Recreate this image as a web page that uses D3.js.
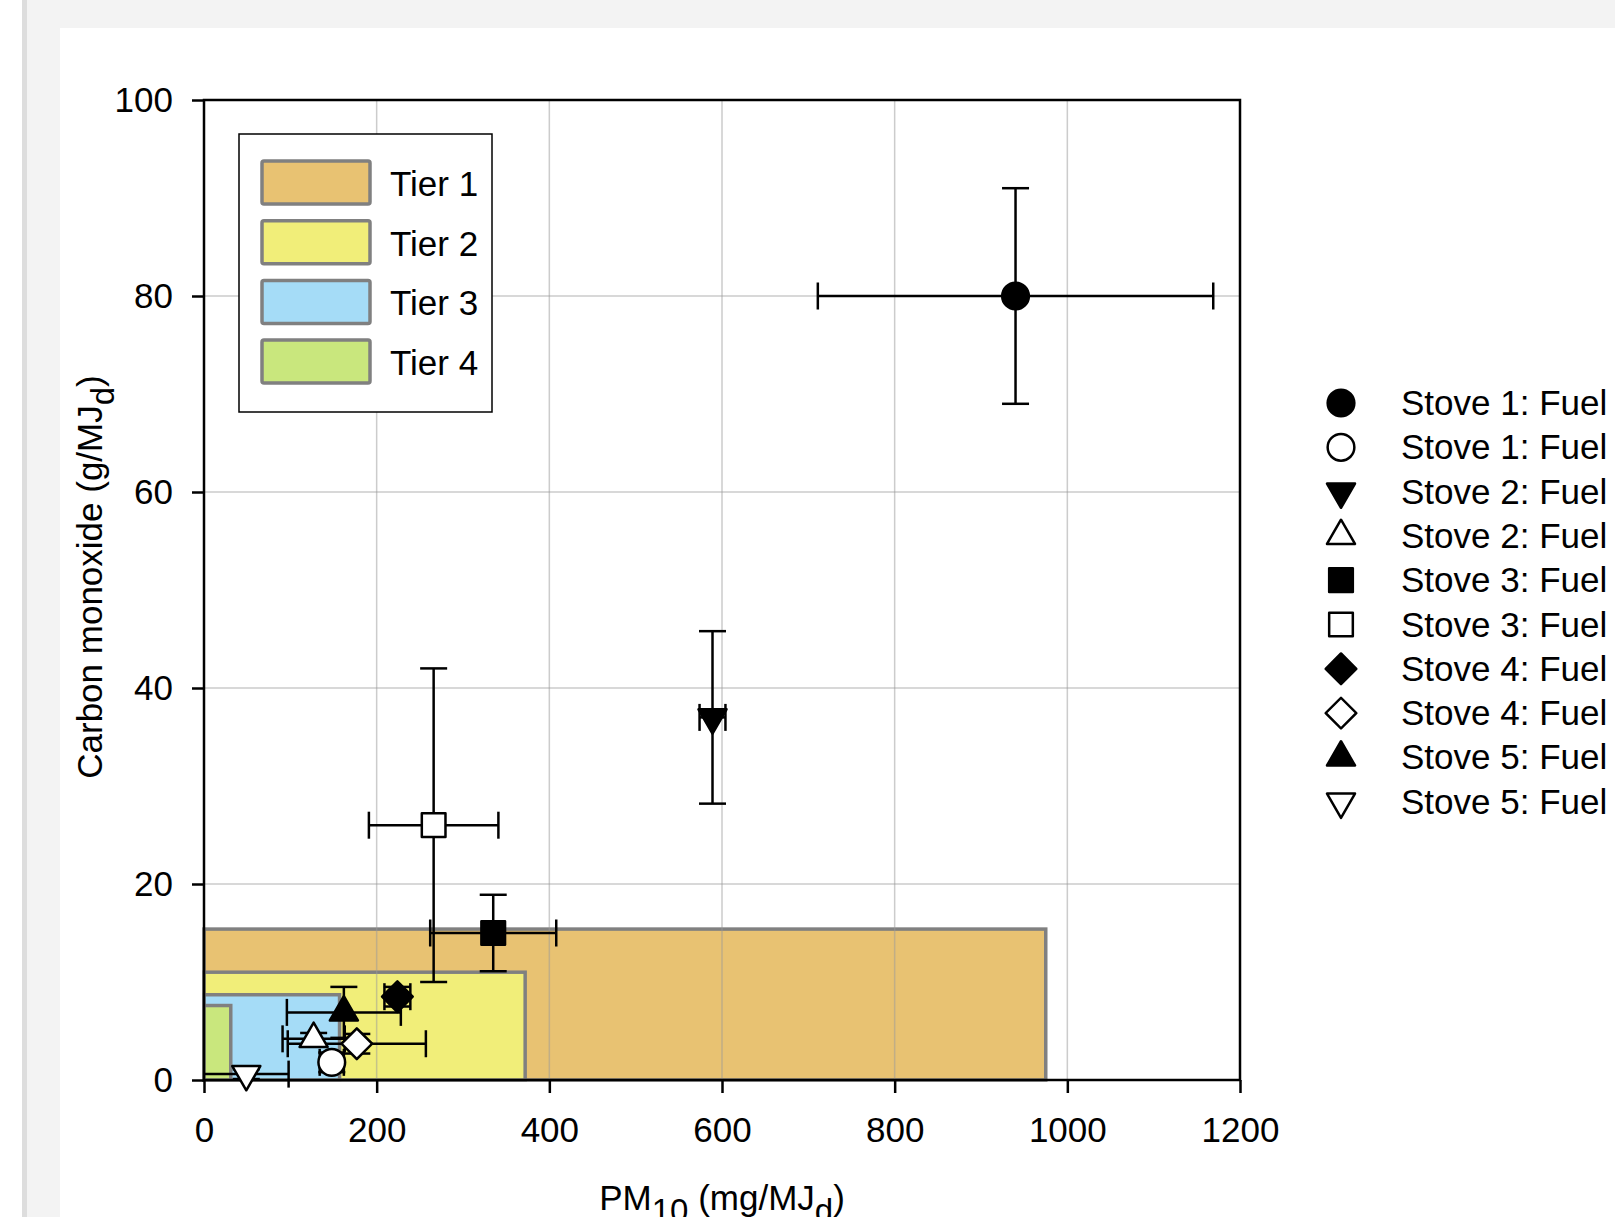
<!DOCTYPE html>
<html>
<head>
<meta charset="utf-8">
<script src="https://cdn.jsdelivr.net/npm/d3@7"></script>
<style>
  html, body { margin: 0; padding: 0; width: 1615px; height: 1217px; overflow: hidden; background: #fff; }
  #strip { position: absolute; left: 22px; top: 0; width: 5px; height: 1217px; background: #dddddd; }
  #frame { position: absolute; left: 27px; top: 0; width: 1588px; height: 1217px; background: #f3f3f3; }
  #panel { position: absolute; left: 60px; top: 28px; width: 1555px; height: 1189px; background: #fff; }
  svg { position: absolute; left: 0; top: 0; }
  text { font-family: "Liberation Sans", Arial, sans-serif; fill: #000; }
</style>
</head>
<body>
<div id="strip"></div>
<div id="frame"></div>
<div id="panel"></div>
<svg id="chart" width="1615" height="1217"></svg>
<script>
// tiers (upper limits of each box)
const tierNames = ['Tier 1', 'Tier 2', 'Tier 3', 'Tier 4'];
const tierPM = [975, 372, 157, 31];
const tierCO = [15.4, 11.0, 8.7, 7.6];
const tierColors = ['#e8c272', '#f1ee79', '#a5dcf7', '#c9e77d'];

// stove / fuel measurements
const stoveLabels = ['Stove 1: Fuel', 'Stove 1: Fuel', 'Stove 2: Fuel', 'Stove 2: Fuel', 'Stove 3: Fuel',
                     'Stove 3: Fuel', 'Stove 4: Fuel', 'Stove 4: Fuel', 'Stove 5: Fuel', 'Stove 5: Fuel'];
const stoveShapes = ['circle', 'circle', 'triangleDown', 'triangleUp', 'square',
                     'square', 'diamond', 'diamond', 'triangleUp', 'triangleDown'];
const stoveFilled = [true, false, true, false, true, false, true, false, true, false];
const pmMean = [940, 148, 589, 127, 335, 266, 224, 177, 162, 49];
const pmErr  = [229, 14, 15, 36, 73, 75, 15, 80, 66, 49];
const coMean = [80, 1.8, 37, 4.2, 15, 26, 8.5, 3.7, 6.9, 0.6];
const coErr  = [11, 1.0, 8.8, 0.6, 3.9, 16, 1.0, 1.0, 2.6, 0.5];

const xTicks = [0, 200, 400, 600, 800, 1000, 1200];
const yTicks = [0, 20, 40, 60, 80, 100];

const svg = d3.select('#chart');
const mLeft = 204, mRight = 1240, mTop = 100, mBottom = 1080;
const FONT = '35px';

let xScale = d3.scaleLinear().domain([0, 1200]).range([mLeft, mRight]);
let yScale = d3.scaleLinear().domain([0, 100]).range([mBottom, mTop]);

// tier boxes, biggest first
svg.selectAll('.tier')
  .data(tierNames)
  .enter()
  .append('rect')
  .attr('class', 'tier')
  .attr('x', xScale(0))
  .attr('y', (d, i) => yScale(tierCO[i]))
  .attr('width', (d, i) => xScale(tierPM[i]) - xScale(0))
  .attr('height', (d, i) => yScale(0) - yScale(tierCO[i]))
  .attr('fill', (d, i) => tierColors[i])
  .attr('stroke', '#808080')
  .attr('stroke-width', 3.5);

// gridlines
svg.selectAll('.vgrid')
  .data(xTicks.slice(1, -1))
  .enter()
  .append('line')
  .attr('x1', d => xScale(d)).attr('x2', d => xScale(d))
  .attr('y1', mTop).attr('y2', mBottom)
  .attr('stroke', '#9a9a9a').attr('stroke-opacity', 0.5).attr('stroke-width', 1.5);
svg.selectAll('.hgrid')
  .data(yTicks.slice(1, -1))
  .enter()
  .append('line')
  .attr('y1', d => yScale(d)).attr('y2', d => yScale(d))
  .attr('x1', mLeft).attr('x2', mRight)
  .attr('stroke', '#9a9a9a').attr('stroke-opacity', 0.5).attr('stroke-width', 1.5);

// axes
let xAxis = svg.append('g')
  .attr('transform', `translate(0,${mBottom})`)
  .call(d3.axisBottom(xScale).tickValues(xTicks).tickFormat(d3.format('d'))
    .tickSize(13).tickSizeOuter(0).tickPadding(24));
let yAxis = svg.append('g')
  .attr('transform', `translate(${mLeft},0)`)
  .call(d3.axisLeft(yScale).tickValues(yTicks).tickFormat(d3.format('d'))
    .tickSize(12).tickSizeOuter(0).tickPadding(19));
[xAxis, yAxis].forEach(g => {
  g.attr('font-family', null).attr('font-size', null);
  g.select('.domain').remove();
  g.selectAll('.tick line').attr('stroke', '#000').attr('stroke-width', 2.5);
  g.selectAll('.tick text').style('font-size', FONT);
});

// plot frame
svg.append('rect')
  .attr('x', mLeft).attr('y', mTop)
  .attr('width', mRight - mLeft).attr('height', mBottom - mTop)
  .attr('fill', 'none').attr('stroke', '#000').attr('stroke-width', 2.5);

// error bars
const CAP = 13.5;
let idx = d3.range(pmMean.length);
let bars = svg.selectAll('.err').data(idx).enter().append('g').attr('class', 'err')
  .attr('stroke', '#000').attr('stroke-width', 2.5);
bars.append('line')
  .attr('x1', i => xScale(Math.max(0, pmMean[i] - pmErr[i]))).attr('x2', i => xScale(pmMean[i] + pmErr[i]))
  .attr('y1', i => yScale(coMean[i])).attr('y2', i => yScale(coMean[i]));
bars.append('line')
  .attr('x1', i => xScale(pmMean[i] + pmErr[i])).attr('x2', i => xScale(pmMean[i] + pmErr[i]))
  .attr('y1', i => yScale(coMean[i]) - CAP).attr('y2', i => yScale(coMean[i]) + CAP);
bars.filter(i => pmMean[i] - pmErr[i] > 0).append('line')
  .attr('x1', i => xScale(pmMean[i] - pmErr[i])).attr('x2', i => xScale(pmMean[i] - pmErr[i]))
  .attr('y1', i => yScale(coMean[i]) - CAP).attr('y2', i => yScale(coMean[i]) + CAP);
bars.append('line')
  .attr('x1', i => xScale(pmMean[i])).attr('x2', i => xScale(pmMean[i]))
  .attr('y1', i => yScale(coMean[i] + coErr[i])).attr('y2', i => yScale(Math.max(0, coMean[i] - coErr[i])));
bars.append('line')
  .attr('x1', i => xScale(pmMean[i]) - CAP).attr('x2', i => xScale(pmMean[i]) + CAP)
  .attr('y1', i => yScale(coMean[i] + coErr[i])).attr('y2', i => yScale(coMean[i] + coErr[i]));
bars.append('line')
  .attr('x1', i => xScale(pmMean[i]) - CAP).attr('x2', i => xScale(pmMean[i]) + CAP)
  .attr('y1', i => yScale(coMean[i] - coErr[i])).attr('y2', i => yScale(coMean[i] - coErr[i]));

// marker shapes
const shapeType = { circle: d3.symbolCircle, square: d3.symbolSquare, diamond: d3.symbolSquare,
                    triangleUp: d3.symbolTriangle, triangleDown: d3.symbolTriangle };
const shapeSize = { circle: 560, square: 560, diamond: 470, triangleUp: 340, triangleDown: 340 };
const shapeRot = { circle: 0, square: 0, diamond: 45, triangleUp: 0, triangleDown: 180 };
const symbolPath = s => d3.symbol().type(shapeType[s]).size(shapeSize[s])();

svg.selectAll('.marker')
  .data(idx)
  .enter()
  .append('path')
  .attr('class', 'marker')
  .attr('d', i => symbolPath(stoveShapes[i]))
  .attr('transform', i => `translate(${xScale(pmMean[i])},${yScale(coMean[i])}) rotate(${shapeRot[stoveShapes[i]]})`)
  .attr('fill', i => stoveFilled[i] ? '#000' : '#fff')
  .attr('stroke', '#000')
  .attr('stroke-width', 2.5)
  .attr('stroke-linejoin', 'round');

// tier legend
const tl = svg.append('g').attr('transform', 'translate(239,134)');
tl.append('rect').attr('width', 253).attr('height', 278)
  .attr('fill', '#fff').attr('stroke', '#000').attr('stroke-width', 1.5);
let tierItem = tl.selectAll('.titem').data(tierNames).enter().append('g')
  .attr('transform', (d, i) => `translate(23,${27 + i * 59.7})`);
tierItem.append('rect').attr('width', 108).attr('height', 43).attr('rx', 2)
  .attr('fill', (d, i) => tierColors[i]).attr('stroke', '#808080').attr('stroke-width', 3.5);
tierItem.append('text').attr('x', 128).attr('y', 35).style('font-size', FONT).text(d => d);

// series legend
let sl = svg.selectAll('.sitem').data(idx).enter().append('g')
  .attr('transform', i => `translate(1341,${403 + i * 44.3})`);
sl.append('path')
  .attr('d', i => symbolPath(stoveShapes[i]))
  .attr('transform', i => `rotate(${shapeRot[stoveShapes[i]]})`)
  .attr('fill', i => stoveFilled[i] ? '#000' : '#fff')
  .attr('stroke', '#000').attr('stroke-width', 2.5).attr('stroke-linejoin', 'round');
sl.append('text').attr('x', 60).attr('y', 12).style('font-size', FONT).text(i => stoveLabels[i]);

// axis titles
let xt = svg.append('text').attr('x', (mLeft + mRight) / 2).attr('y', 1210)
  .attr('text-anchor', 'middle').style('font-size', FONT);
xt.append('tspan').text('PM');
xt.append('tspan').attr('dy', 12).style('font-size', '33px').text('10');
xt.append('tspan').attr('dy', -12).text(' (mg/MJ');
xt.append('tspan').attr('dy', 12).style('font-size', '33px').text('d');
xt.append('tspan').attr('dy', -12).text(')');

let yt = svg.append('text').attr('transform', 'translate(102,577) rotate(-90)')
  .attr('text-anchor', 'middle').style('font-size', FONT);
yt.append('tspan').text('Carbon monoxide (g/MJ');
yt.append('tspan').attr('dy', 12).style('font-size', '33px').text('d');
yt.append('tspan').attr('dy', -12).text(')');
</script>
</body>
</html>
